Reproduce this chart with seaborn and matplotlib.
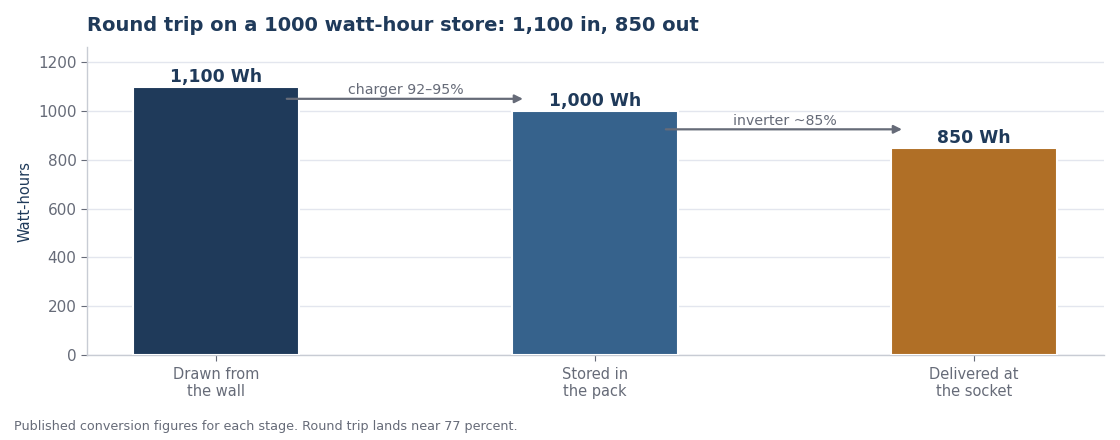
import numpy as np
import pandas as pd
import matplotlib
matplotlib.use("Agg")
import matplotlib.pyplot as plt
import seaborn as sns

# data
stages = ["Drawn from\nthe wall", "Stored in\nthe pack", "Delivered at\nthe socket"]
watt_hours = [1100, 1000, 850]
value_labels = ["1,100 Wh", "1,000 Wh", "850 Wh"]
step_labels = ["charger 92\u201395%", "inverter ~85%"]
bar_colors = ["#1f3a5a", "#36628c", "#b06f26"]

navy = "#1f3a5a"
gray = "#666b78"

sns.set_theme(style="whitegrid")
plt.rcParams["font.family"] = "sans-serif"
plt.rcParams["font.sans-serif"] = ["DejaVu Sans"]

df = pd.DataFrame({"stage": stages, "wh": watt_hours})

fig = plt.figure(figsize=(11.2, 4.4), dpi=100)
ax = fig.add_axes([0.0777, 0.193, 0.908, 0.700])

sns.barplot(data=df, x="stage", y="wh", hue="stage", palette=bar_colors,
            width=0.44, edgecolor="white", linewidth=1.5, saturation=1,
            legend=False, ax=ax, zorder=3)

ax.set_xlim(-0.34, 2.343)
ax.set_ylim(0, 1262)
ax.set_yticks([0, 200, 400, 600, 800, 1000, 1200])

ax.grid(axis="y", color="#e3e6ee", linewidth=1)
ax.grid(axis="x", visible=False)
ax.set_axisbelow(True)

for side in ["top", "right"]:
    ax.spines[side].set_visible(False)
for side in ["left", "bottom"]:
    ax.spines[side].set_color("#c8ccd4")
    ax.spines[side].set_linewidth(1)

ax.tick_params(axis="both", colors=gray, labelsize=11, length=4, width=0.8,
               direction="out", bottom=True, left=True)
ax.tick_params(axis="x", labelsize=10.5, pad=4.5)
ax.set_xlabel("")
ax.set_ylabel("Watt-hours", color=navy, fontsize=10.5, labelpad=4)

# value labels above bars
for i, (v, lab) in enumerate(zip(watt_hours, value_labels)):
    ax.annotate(lab, xy=(i, v), xytext=(0, 0.5), textcoords="offset points",
                ha="center", va="bottom", fontsize=12.4, fontweight="bold",
                color=navy)

# conversion arrows between stages
for i, lab in enumerate(step_labels):
    y = (watt_hours[i] + watt_hours[i + 1]) / 2
    ax.annotate("", xy=(i + 0.81, y), xytext=(i + 0.187, y),
                arrowprops=dict(arrowstyle="-|>", color=gray, lw=1.6,
                                mutation_scale=12, shrinkA=0, shrinkB=0),
                zorder=4)
    ax.annotate(lab, xy=(i + 0.5, y), xytext=(0, 1), textcoords="offset points",
                ha="center", va="bottom", fontsize=10.2, color=gray)

fig.text(0.0777, 0.943, "Round trip on a 1000 watt-hour store: 1,100 in, 850 out",
         fontsize=14, fontweight="bold", color=navy, ha="left", va="center")
fig.text(0.0125, 0.03, "Published conversion figures for each stage. Round trip lands near 77 percent.",
         fontsize=9.2, color=gray, ha="left", va="center")

fig.savefig("out.png", dpi=100)
